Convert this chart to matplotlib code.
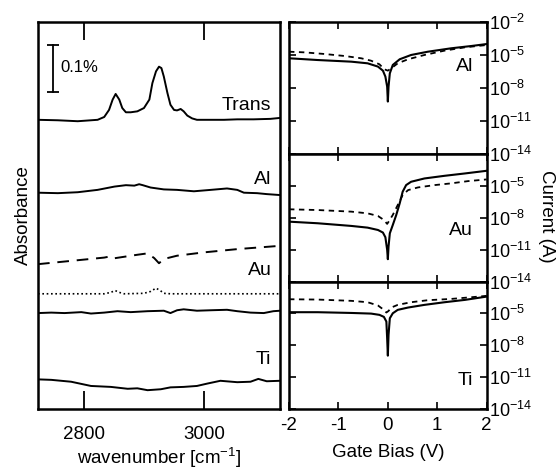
import numpy as np
import matplotlib
matplotlib.use("Agg")
import matplotlib.pyplot as plt

plt.rcParams['font.family'] = ['Liberation Sans', 'DejaVu Sans']
plt.rcParams['mathtext.default'] = 'regular'
plt.rcParams['font.size'] = 13

# ---- IR spectra (left panel), absorbance in %, relative to each baseline ----
wn_trans = [2724, 2757, 2790, 2823, 2834, 2842, 2848, 2853, 2859, 2864, 2870, 2878,
            2889, 2900, 2909, 2914, 2920, 2925, 2929, 2933, 2939, 2944, 2950, 2955,
            2961, 2966, 2972, 2980, 2988, 3011, 3033, 3055, 3082, 3110, 3126]
a_trans = [0, -0.001, -0.003, 0, 0.006, 0.021, 0.043, 0.055, 0.043, 0.025, 0.016, 0.016,
           0.018, 0.025, 0.043, 0.078, 0.103, 0.113, 0.110, 0.092, 0.057, 0.032, 0.021, 0.020,
           0.023, 0.018, 0.009, 0.003, 0, 0, 0, 0.001, 0.001, 0.002, 0.004]

wn_al = [2724, 2757, 2790, 2823, 2851, 2870, 2884, 2892, 2898, 2911, 2933, 2955,
         2983, 3011, 3038, 3055, 3066, 3088, 3104, 3126]
a_al = [0, -0.001, 0.001, 0.006, 0.013, 0.016, 0.015, 0.018, 0.016, 0.011, 0.007, 0.006,
        0.003, 0.006, 0.009, 0.006, 0, -0.001, -0.003, -0.005]

wn_au = [2724, 2779, 2834, 2842, 2848, 2889, 2906, 2917, 2925, 2933, 2955, 2999, 3055, 3126]
a_au = [0, 0.007, 0.014, 0.016, 0.012, 0.020, 0.023, 0.013, 0.002, 0.011, 0.018, 0.025,
        0.032, 0.039]

wn_dot = [2724, 2834, 2845, 2852, 2859, 2867, 2900, 2911, 2920, 2927, 2933, 2944, 3126]
a_dot = [0, 0, 0.003, 0.007, 0.003, 0, 0.001, 0.005, 0.012, 0.007, 0.001, 0, 0]

wn_s4 = [2724, 2746, 2768, 2796, 2812, 2834, 2856, 2878, 2906, 2933, 2944, 2955, 2966,
         2988, 3011, 3038, 3055, 3077, 3099, 3115, 3126]
a_s4 = [0, 0.001, 0, 0.002, -0.001, 0.001, 0.004, 0.002, 0.004, 0.005, 0, 0.006, 0.008,
        0.005, 0.006, 0.007, 0.004, 0.001, 0, 0.004, 0.005]

wn_ti = [2724, 2746, 2779, 2812, 2845, 2873, 2889, 2906, 2928, 2944, 2966, 2988, 3005,
         3027, 3055, 3077, 3090, 3104, 3126]
a_ti = [0, -0.001, -0.005, -0.014, -0.016, -0.020, -0.019, -0.023, -0.021, -0.017, -0.016,
        -0.014, -0.009, -0.003, -0.006, -0.005, 0.001, -0.004, -0.003]

# vertical offsets of the stacked spectra (%)
offsets = [0.615, 0.460, 0.308, 0.245, 0.204, 0.063]

# ---- I-V curves (right panels), log10 of current ----
v_al_s = [-2.0, -1.42, -0.74, -0.41, -0.20, -0.10, -0.05, -0.014, 0, 0.014, 0.04, 0.10,
          0.24, 0.47, 0.81, 1.28, 1.69, 2.0]
logi_al_s = [-5.31, -5.47, -5.62, -5.77, -6.07, -6.44, -6.98, -7.90, -9.26, -7.90, -6.68,
             -5.92, -5.40, -5.01, -4.71, -4.40, -4.19, -4.01]
v_al_d = [-2.0, -1.69, -1.28, -0.88, -0.54, -0.34, -0.17, -0.07, 0, 0.07, 0.20, 0.41,
          0.74, 1.15, 1.56, 2.0]
logi_al_d = [-4.71, -4.77, -4.92, -5.10, -5.31, -5.53, -5.86, -6.32, -6.44, -6.22, -5.77,
             -5.40, -5.01, -4.61, -4.31, -4.10]

v_au_s = [-2.0, -1.42, -0.74, -0.41, -0.20, -0.10, -0.05, -0.014, 0, 0.014, 0.04, 0.10,
          0.17, 0.24, 0.30, 0.37, 0.47, 0.74, 1.15, 1.56, 2.0]
logi_au_s = [-8.39, -8.54, -8.79, -8.95, -9.17, -9.41, -9.85, -11.03, -11.91, -10.72,
             -9.48, -8.70, -7.76, -6.67, -5.58, -4.96, -4.65, -4.34, -4.09, -3.87, -3.62]
v_au_d = [-2.0, -1.42, -0.74, -0.41, -0.20, -0.08, -0.014, 0.03, 0.10, 0.20, 0.30, 0.41,
          0.61, 0.95, 1.28, 1.62, 2.0]
logi_au_d = [-7.23, -7.30, -7.45, -7.61, -7.86, -8.23, -8.60, -8.29, -7.76, -6.83, -5.89,
             -5.43, -5.18, -4.96, -4.80, -4.59, -4.43]

v_ti_s = [-2.0, -1.42, -0.74, -0.34, -0.17, -0.08, -0.03, -0.014, 0, 0.014, 0.04, 0.10,
          0.20, 0.41, 0.74, 1.15, 1.56, 2.0]
logi_ti_s = [-4.89, -4.89, -4.96, -5.02, -5.14, -5.33, -5.77, -7.35, -8.98, -7.03, -5.46,
             -4.99, -4.67, -4.45, -4.20, -3.95, -3.73, -3.42]
v_ti_d = [-2.0, -1.42, -0.74, -0.41, -0.20, -0.08, -0.03, 0.014, 0.07, 0.20, 0.47, 0.81,
          1.28, 1.69, 2.0]
logi_ti_d = [-3.67, -3.70, -3.82, -3.95, -4.26, -4.67, -4.92, -4.77, -4.45, -4.20, -3.95,
             -3.76, -3.64, -3.48, -3.35]

fig = plt.figure(figsize=(5.58, 4.70), dpi=100)

# ---------------- left panel ----------------
ax = fig.add_axes([38/558, 61/470, 242/558, 387/470])
lw = 1.4
ax.plot(wn_trans, np.array(a_trans) + offsets[0], color='k', lw=lw)
ax.plot(wn_al, np.array(a_al) + offsets[1], color='k', lw=lw)
ax.plot(wn_au, np.array(a_au) + offsets[2], color='k', lw=lw, dashes=(6, 4))
ax.plot(wn_dot, np.array(a_dot) + offsets[3], color='k', lw=1.2, dashes=(1, 1.6))
ax.plot(wn_s4, np.array(a_s4) + offsets[4], color='k', lw=lw)
ax.plot(wn_ti, np.array(a_ti) + offsets[5], color='k', lw=lw)
ax.set_xlim(2724, 3126)
ax.set_ylim(0, 0.823)
ax.set_xticks([2800, 3000])
ax.set_yticks([])
ax.tick_params(axis='x', direction='in', top=True, length=13, width=1.3, pad=12,
               labelsize=13.5)
for s in ax.spines.values():
    s.set_linewidth(1.8)
ax.set_ylabel('Absorbance', fontsize=13.5, labelpad=4)
fig.text(159/558, 6/470, 'wavenumber [cm$^{-1}$]', ha='center', va='baseline',
         fontsize=13.5)

# scale bar 0.1 %
ax.plot([2749, 2749], [0.675, 0.775], color='k', lw=1.3, marker='_', ms=8, mew=1.3)
ax.text(2761, 0.727, '0.1%', fontsize=12, va='center', ha='left')

for lab, yy in zip(['Trans', 'Al', 'Au', 'Ti'], [0.783, 0.594, 0.359, 0.127]):
    ax.text(0.965, yy, lab, transform=ax.transAxes, ha='right', va='center', fontsize=14)

# ---------------- right panels ----------------
left_r = 289/558
width_r = 197.7/558
bounds = [(22, 153.5), (153.5, 281.5), (281.5, 409)]
curves = [(v_al_s, logi_al_s, v_al_d, logi_al_d, 'Al', 0.658),
          (v_au_s, logi_au_s, v_au_d, logi_au_d, 'Au', 0.402),
          (v_ti_s, logi_ti_s, v_ti_d, logi_ti_d, 'Ti', 0.22)]
yt = [1e-14, 1e-11, 1e-8, 1e-5, 1e-2]
for i, ((top, bot), (vs, ls, vd, ld, lab, ly)) in enumerate(zip(bounds, curves)):
    axr = fig.add_axes([left_r, (470 - bot)/470, width_r, (bot - top)/470])
    axr.plot(vd, 10.0**np.array(ld), color='k', lw=1.3, dashes=(3, 2.5))
    axr.plot(vs, 10.0**np.array(ls), color='k', lw=1.5)
    axr.set_yscale('log')
    axr.set_ylim(1e-14, 1e-2)
    axr.set_xlim(-2, 2)
    axr.set_yticks(yt)
    axr.minorticks_off()
    labels = ['$10^{%d}$' % int(np.log10(t)) for t in yt]
    if i > 0:
        labels[-1] = ''
    axr.set_yticklabels(labels)
    axr.set_xticks([-2, -1, 0, 1, 2])
    axr.tick_params(direction='in', top=True, bottom=True, left=True, right=True,
                    labelleft=False, labelright=True, length=5, width=1.2,
                    labelsize=13, pad=2)
    if i < 2:
        axr.tick_params(axis='x', labelbottom=False)
    else:
        axr.set_xticklabels(['-2', '-1', '0', '1', '2'])
        axr.tick_params(axis='x', labelsize=13.5, pad=6)
        axr.set_xlabel('Gate Bias (V)', fontsize=13.5, labelpad=7)
    for s in axr.spines.values():
        s.set_linewidth(1.8)
    axr.text(0.93, ly, lab, transform=axr.transAxes, ha='right', va='center', fontsize=14)

fig.text(547/558, 1 - 216/470, 'Current (A)', rotation=270, ha='center', va='center',
         fontsize=13.5)

fig.savefig('out.png', dpi=100)
